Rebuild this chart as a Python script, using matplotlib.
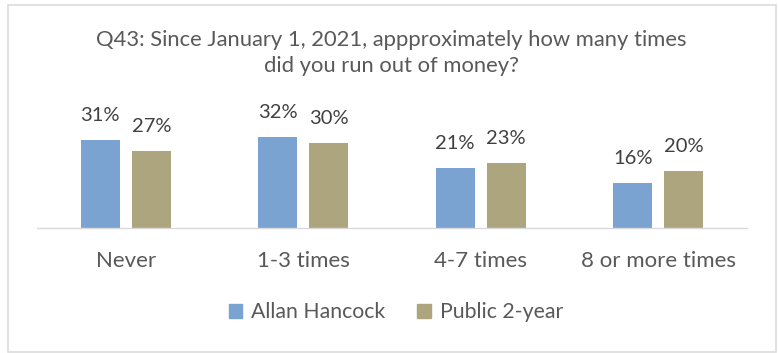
import matplotlib
matplotlib.use("Agg")
import matplotlib.pyplot as plt
from matplotlib.patches import Rectangle
import numpy as np

categories = ["Never", "1-3 times", "4-7 times", "8 or more times"]
series_names = ["Allan Hancock", "Public 2-year"]
allan_hancock = [31, 32, 21, 16]
public_2year = [27, 30, 23, 20]
title_lines = ["Q43: Since January 1, 2021, appproximately how many times",
               "did you run out of money?"]

colors = ["#7BA3D1", "#ADA57E"]
label_color = "#404040"
text_color = "#595959"
font = ["Lato", "DejaVu Sans"]

W, H = 778, 353
PT = 100 / 72  # pixels per point at 100 dpi
fig = plt.figure(figsize=(W / 100, H / 100), dpi=100)
fig.patch.set_facecolor("white")

# outer frame
fig.add_artist(Rectangle((7.5 / W, 1 - 351.5 / H), 768 / W, 346.5 / H,
                         transform=fig.transFigure, fill=False,
                         edgecolor="#D9D9D9", linewidth=1.1))

# plot area in pixel coordinates
left, right = 37, 747
base_y = 228.3
ymax = 35
px_per_unit = 2.86
top_y = base_y - ymax * px_per_unit
ax = fig.add_axes([left / W, 1 - base_y / H, (right - left) / W, (base_y - top_y) / H])
ax.set_xlim(-0.5, len(categories) - 0.5)
ax.set_ylim(0, ymax)

x = np.arange(len(categories))
bw = 0.22
off = 0.144
b1 = ax.bar(x - off, allan_hancock, bw, color=colors[0], label=series_names[0])
b2 = ax.bar(x + off, public_2year, bw, color=colors[1], label=series_names[1])

for bars, vals in ((b1, allan_hancock), (b2, public_2year)):
    for rect, v in zip(bars, vals):
        ax.annotate(f"{v}%", (rect.get_x() + rect.get_width() / 2, v),
                    xytext=(0, 19 / PT), textcoords="offset points",
                    ha="center", va="baseline",
                    fontsize=14.5, color=label_color, family=font)

for s in ["top", "right", "left"]:
    ax.spines[s].set_visible(False)
ax.spines["bottom"].set_color("#D9D9D9")
ax.spines["bottom"].set_linewidth(1.0)
ax.set_yticks([])
ax.set_xticks(x)
ax.set_xticklabels(categories, fontsize=16, color=text_color, family=font)
ax.tick_params(axis="x", length=0, pad=(267 - base_y) / PT)
for lab in ax.get_xticklabels():
    lab.set_va("baseline")

for line, yb in zip(title_lines, (46, 71.7)):
    fig.text(391 / W, 1 - yb / H, line, ha="center", va="baseline", fontsize=15.8,
             color=text_color, family=font)

handles = [Rectangle((0, 0), 1, 1, color=c) for c in colors]
fig.legend(handles, series_names, loc="center", bbox_to_anchor=(396 / W, 1 - 312.5 / H),
           ncol=2, frameon=False, prop={"family": font, "size": 15.3},
           labelcolor=text_color, handlelength=0.62, handleheight=0.62,
           handletextpad=0.45, columnspacing=1.5)

fig.savefig("out.png", dpi=100, facecolor="white")
